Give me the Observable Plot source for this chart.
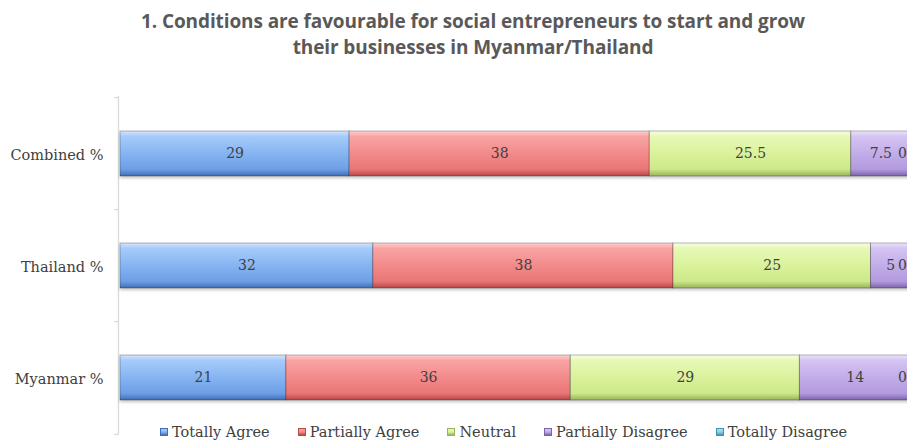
<!DOCTYPE html>
<html><head><meta charset="utf-8">
<script src="https://cdn.jsdelivr.net/npm/d3@7"></script>
<script src="https://cdn.jsdelivr.net/npm/@observablehq/plot@0.6"></script>
<style>
body{margin:0;background:#fff;overflow:hidden;width:907px;height:440px;position:relative}
#title{height:75px;box-sizing:border-box;padding-top:8px;padding-left:39px;text-align:center;font-family:"Open Sans",sans-serif;font-weight:bold;font-size:19px;color:#595959;line-height:26px;letter-spacing:-0.1px}
#chart svg g[aria-label="bar"]{filter:drop-shadow(0 2px 1.5px rgba(0,0,0,0.22))}
#legend{position:absolute;left:160px;top:424px;display:flex;gap:28px;font-family:"DejaVu Serif",serif;font-size:14.5px;color:#404040;line-height:16px;white-space:nowrap}
#legend .item{display:flex;align-items:center}
#legend .sw{width:8px;height:8px;margin-right:4px;box-sizing:border-box}
</style></head><body>
<div id="title">1. Conditions are favourable for social entrepreneurs to start and grow<br>their businesses in Myanmar/Thailand</div>
<div id="chart"></div>
<div id="legend"></div>
<script>
const categories = ["Combined %", "Thailand %", "Myanmar %"];
const series = ["Totally Agree", "Partially Agree", "Neutral", "Partially Disagree", "Totally Disagree"];
const totallyAgree = [29, 32, 21];
const partiallyAgree = [38, 38, 36];
const neutral = [25.5, 25, 29];
const partiallyDisagree = [7.5, 5, 14];
const totallyDisagree = [0, 0, 0];
const seriesValues = [totallyAgree, partiallyAgree, neutral, partiallyDisagree, totallyDisagree];

const data = categories.flatMap((c, i) => series.map((s, j) => ({category: c, series: s, value: seriesValues[j][i]})));

// styling: gradient stops per series (top -> bottom)
const gradients = [
  ["#d2e6ff", "#a6cbfa", "#86b4f2", "#6e9fe6", "#3f6fb8"],
  ["#ffd0d0", "#f9a4a4", "#f38a8a", "#ea7676", "#b94848"],
  ["#f6ffdc", "#e6f9b6", "#daf29c", "#cde88a", "#98b45a"],
  ["#ece4fb", "#d4c4f3", "#c2ade9", "#b29ade", "#7d65ad"],
  ["#d4f4fc", "#a8e2f2", "#88d2e8", "#6fc2dc", "#3f94ae"]
];
const offsets = [0, 0.12, 0.5, 0.85, 1];

const W = 907, H = 365, ML = 120;
const plot = Plot.plot({
  width: W, height: H,
  marginLeft: ML, marginRight: 0, marginTop: 21, marginBottom: 6,
  style: {background: "transparent", overflow: "visible"},
  x: {domain: [0, 100], range: [ML, 910], axis: null},
  y: {domain: categories, paddingInner: 0.6, paddingOuter: 0.3, label: null},
  color: {domain: series, range: series.map((s, j) => `url(#grad${j})`)},
  marks: [
    Plot.ruleX([0], {stroke: "#d9d9d9", strokeWidth: 1.3, dx: -2}),
    Plot.ruleY(categories, {y: d => d, x1: -0.75, x2: -0.2, stroke: "#d9d9d9", strokeWidth: 1.3, dy: -56.4}),
    Plot.ruleY(categories.slice(-1), {y: d => d, x1: -0.75, x2: -0.2, stroke: "#d9d9d9", strokeWidth: 1.3, dy: 56.4}),
    Plot.barX(data, {x: "value", y: "category", fill: "series", stroke: "#000", strokeOpacity: 0.28, strokeWidth: 1}),
    Plot.text(data, Plot.stackX({x: "value", y: "category", z: "series",
      text: d => d.value > 0 ? String(d.value) : null,
      fill: "#404040", fontFamily: "DejaVu Serif", fontSize: 14})),
    Plot.text(data, Plot.stackX({x: "value", y: "category", z: "series",
      text: d => d.value === 0 ? "0" : null, dx: -8,
      fill: "#404040", fontFamily: "DejaVu Serif", fontSize: 14})),
    Plot.axisY({tickSize: 0, tickPadding: 17, dy: 1.5, fontFamily: "DejaVu Serif", fontSize: 14.5, color: "#404040", label: null})
  ]
});

const svg = d3.select(plot.tagName.toLowerCase() === "svg" ? plot : plot.querySelector("svg"));
const defs = svg.insert("defs", ":first-child");
gradients.forEach((g, j) => {
  const lg = defs.append("linearGradient").attr("id", `grad${j}`).attr("x1", 0).attr("y1", 0).attr("x2", 0).attr("y2", 1);
  g.forEach((c, k) => lg.append("stop").attr("offset", offsets[k]).attr("stop-color", c));
});
document.getElementById("chart").appendChild(plot);

const legend = d3.select("#legend");
series.forEach((s, j) => {
  const it = legend.append("div").attr("class", "item");
  it.append("div").attr("class", "sw")
    .style("background", `linear-gradient(to bottom, ${gradients[j][1]}, ${gradients[j][2]} 50%, ${gradients[j][4]})`)
    .style("border", `1px solid ${gradients[j][4]}`);
  it.append("span").text(s);
});
</script>
</body></html>
